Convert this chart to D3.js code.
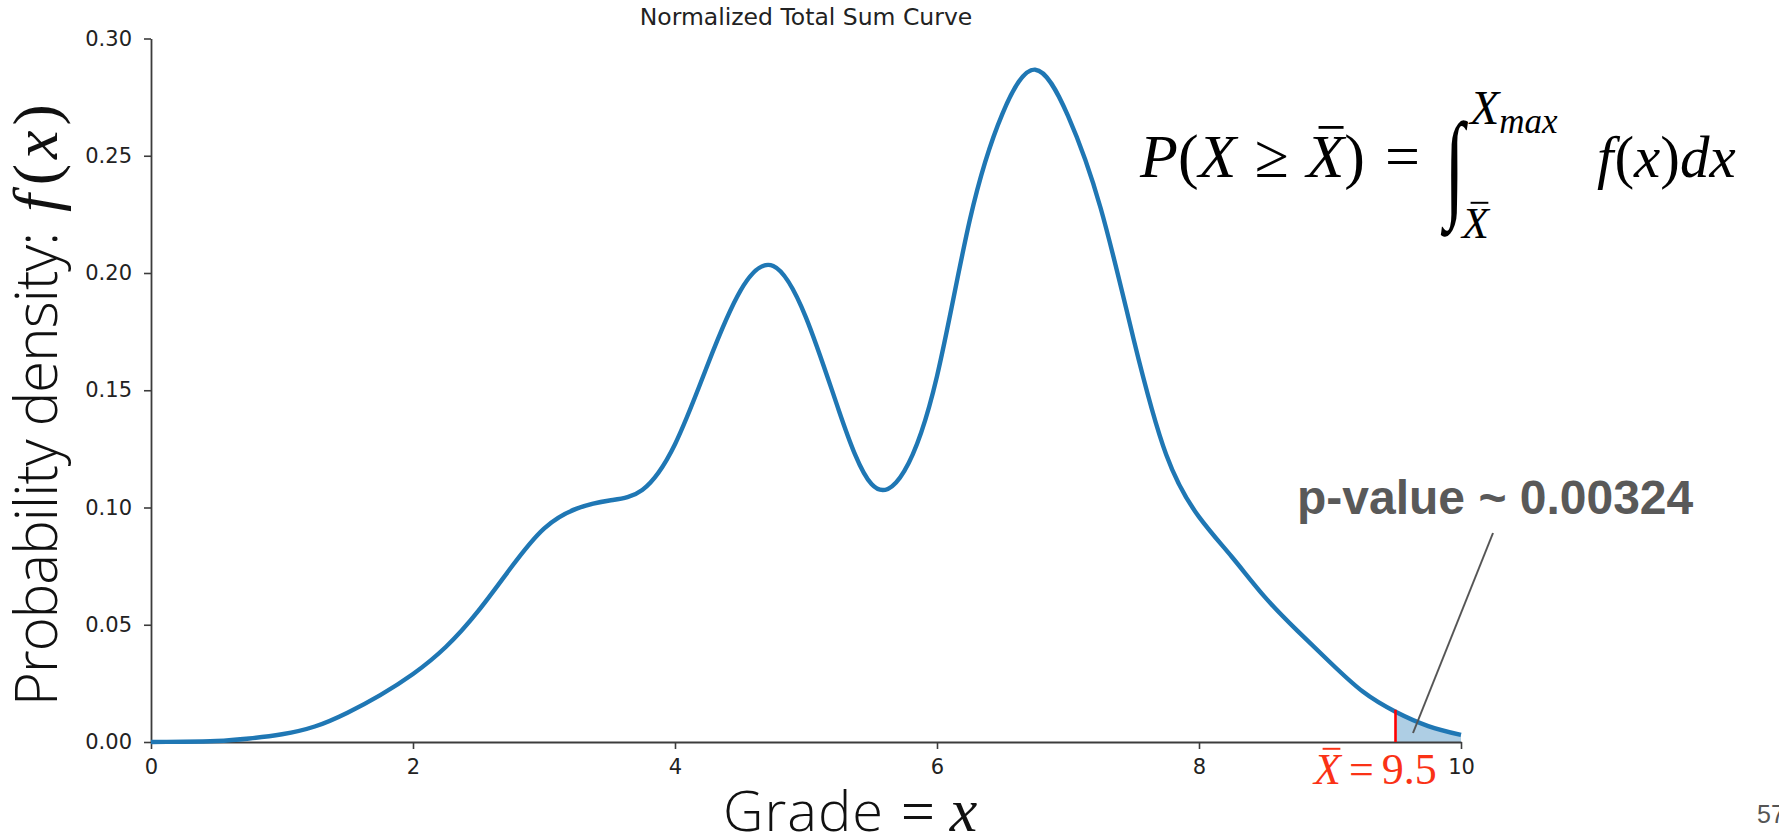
<!DOCTYPE html>
<html>
<head>
<meta charset="utf-8">
<script src="https://cdn.jsdelivr.net/npm/d3@7"></script>
<style>
  html, body { margin: 0; padding: 0; background: #fff; }
  svg { display: block; }
</style>
</head>
<body>
<svg id="chart" width="1779" height="837"></svg>
<script>
// Grade values (x) and the normalized density
const gradeX = [0, 0.25, 0.5, 0.75, 1.0, 1.25, 1.5, 1.75, 2.0, 2.25,
                2.5, 2.75, 3.0, 3.25, 3.5, 3.75, 4.0, 4.25, 4.5, 4.75,
                5.0, 5.25, 5.5, 5.75, 6.0, 6.25, 6.5, 6.75, 7.0, 7.25,
                7.5, 7.75, 8.0, 8.25, 8.5, 8.75, 9.0, 9.25, 9.5, 9.75, 10];
const density = [0.0000, 0.0001, 0.0004, 0.0015, 0.0033, 0.0066, 0.0125, 0.0200, 0.0290, 0.0405,
                 0.0560, 0.0745, 0.0910, 0.0995, 0.1030, 0.1075, 0.1270, 0.1610, 0.1925, 0.2030,
                 0.1810, 0.1415, 0.1100, 0.1155, 0.1560, 0.2225, 0.2680, 0.2867, 0.2670, 0.2275,
                 0.1720, 0.1225, 0.0960, 0.0790, 0.0620, 0.0475, 0.0340, 0.0215, 0.0129, 0.0068, 0.0030];

const xTicks = [0, 2, 4, 6, 8, 10];
const yTicks = [0, 0.05, 0.10, 0.15, 0.20, 0.25, 0.30];
const xDomain = [0, 10];
const yDomain = [0, 0.30];

const sampleMean = 9.5;          // observed X-bar
const pValueText = "p-value ~ 0.00324";
const chartTitle = "Normalized Total Sum Curve";
const pageNumber = "57";

const SANS = "'DejaVu Sans', sans-serif";
const LABEL_SANS = "'Open Sans', Roboto, 'Liberation Sans', sans-serif";
const SERIF = "'Liberation Serif', 'Times New Roman', serif";

const svg = d3.select("#chart");
const points = gradeX.map((g, i) => ({ x: g, y: density[i] }));

const x = d3.scaleLinear().domain(xDomain).range([151, 1461]);
const y = d3.scaleLinear().domain(yDomain).range([742, 38.5]);
const smooth = d3.curveNatural;

// ---- title ----
svg.append("text")
  .attr("x", (x.range()[0] + x.range()[1]) / 2)
  .attr("y", 25)
  .attr("text-anchor", "middle")
  .attr("font-family", SANS)
  .attr("font-size", 23.5)
  .attr("fill", "#222")
  .text(chartTitle);

// ---- shaded tail beyond the sample mean ----
const tail = points.filter(d => d.x >= sampleMean);
svg.append("path")
  .datum(tail)
  .attr("d", d3.area().x(d => x(d.x)).y0(y(0)).y1(d => y(d.y)).curve(smooth))
  .attr("fill", "#1f77b4")
  .attr("fill-opacity", 0.36);

// ---- axes ----
const axisColor = "#3c3c3c";
const yAxis = svg.append("g")
  .attr("transform", `translate(${x(0)},0)`)
  .call(d3.axisLeft(y).tickValues(yTicks).tickFormat(d3.format(".2f"))
        .tickSize(7).tickSizeOuter(0).tickPadding(12));
const xAxis = svg.append("g")
  .attr("transform", `translate(0,${y(0)})`)
  .call(d3.axisBottom(x).tickValues(xTicks).tickFormat(d3.format("d"))
        .tickSize(7).tickSizeOuter(0).tickPadding(10));
[yAxis, xAxis].forEach(a => {
  a.select(".domain").attr("stroke", axisColor).attr("stroke-width", 1.8);
  a.selectAll(".tick line").attr("stroke", axisColor).attr("stroke-width", 1.6);
  a.selectAll(".tick text").attr("font-family", SANS).attr("font-size", 21).attr("fill", "#222");
});

// ---- density curve ----
svg.append("path")
  .datum(points)
  .attr("d", d3.line().x(d => x(d.x)).y(d => y(d.y)).curve(smooth))
  .attr("fill", "none")
  .attr("stroke", "#1f77b4")
  .attr("stroke-width", 4.4)
  .attr("stroke-linejoin", "round");

// ---- marker at the sample mean ----
const meanPoint = points.find(d => d.x === sampleMean);
svg.append("line")
  .attr("x1", x(sampleMean)).attr("x2", x(sampleMean))
  .attr("y1", y(0)).attr("y2", y(meanPoint.y) - 2)
  .attr("stroke", "#ff0000")
  .attr("stroke-width", 2.6);

// ---- helper: lay out a row of text pieces (for math-style labels) ----
function mathRow(g, x0, baseY, pieces, size, fill) {
  let cx = x0;
  pieces.forEach(p => {
    const fs = p.size || size;
    const t = g.append("text")
      .attr("x", cx)
      .attr("y", baseY + (p.dy || 0))
      .attr("font-family", p.sans ? LABEL_SANS : SERIF)
      .attr("font-style", p.it ? "italic" : "normal")
      .attr("font-weight", p.weight || "normal")
      .attr("font-size", fs)
      .attr("fill", fill)
      .text(p.t);
    if (p.len) t.attr("textLength", p.len).attr("lengthAdjust", "spacing");
    const w = p.len || t.node().getComputedTextLength();
    if (p.bar) {
      const by = baseY + (p.dy || 0) - fs * 0.8;
      g.append("line")
        .attr("x1", cx + w * 0.32).attr("x2", cx + w * 0.98)
        .attr("y1", by).attr("y2", by)
        .attr("stroke", fill)
        .attr("stroke-width", Math.max(1.2, fs * 0.045));
    }
    cx += w + (p.gap || 0);
  });
  return cx;
}

// ---- axis labels ----
const xl = svg.append("g");
mathRow(xl, 723, 831, [
  { t: "Grade", sans: true, weight: 300, len: 160, gap: 18 },
  { t: "=", size: 60, gap: 15 },
  { t: "x", it: true, size: 62 }
], 56, "#111");

const yl = svg.append("g").attr("transform", "translate(57,706) rotate(-90)");
mathRow(yl, 0, 0, [
  { t: "Probability density:", sans: true, weight: 300, len: 474, gap: 20 },
  { t: "f", it: true, size: 64, gap: 9 },
  { t: "(", size: 64, gap: 5 },
  { t: "x", it: true, size: 64, gap: 5 },
  { t: ")", size: 64 }
], 58, "#111");

// ---- p-value formula ----
const fm = svg.append("g");
mathRow(fm, 1140, 177, [
  { t: "P", it: true },
  { t: "(" },
  { t: "X", it: true, gap: 18 },
  { t: "\u2265", gap: 18 },
  { t: "X", it: true, bar: true },
  { t: ")", gap: 20 },
  { t: "=" }
], 62, "#000");

// integral sign stretched to span its limits
const integ = fm.append("text")
  .attr("font-family", SERIF)
  .attr("font-size", 62)
  .attr("fill", "#000")
  .text("\u222B");
const ib = integ.node().getBBox();
const iTarget = { x0: 1440, x1: 1469, y0: 100, y1: 238 };
const sx = (iTarget.x1 - iTarget.x0) / ib.width;
const sy = (iTarget.y1 - iTarget.y0) / ib.height;
integ.attr("transform",
  `translate(${iTarget.x0 - ib.x * sx},${iTarget.y0 - ib.y * sy}) scale(${sx},${sy})`);

// upper and lower limits
mathRow(fm, 1470, 124, [
  { t: "X", it: true, size: 48 },
  { t: "max", it: true, size: 35, dy: 9 }
], 48, "#000");
mathRow(fm, 1462, 238, [
  { t: "X", it: true, size: 44, bar: true }
], 44, "#000");

// integrand
mathRow(fm, 1597, 177, [
  { t: "f", it: true, gap: 1 },
  { t: "(" },
  { t: "x", it: true },
  { t: ")" },
  { t: "d", it: true },
  { t: "x", it: true }
], 59, "#000");

// ---- observed mean label ----
const ml = svg.append("g");
mathRow(ml, 1314, 784, [
  { t: "X", it: true, bar: true, gap: 8 },
  { t: "=", gap: 8 },
  { t: "9.5" }
], 44, "#fa3216");

// ---- p-value annotation ----
svg.append("text")
  .attr("x", 1297)
  .attr("y", 514)
  .attr("font-family", "'Liberation Sans', Arial, sans-serif")
  .attr("font-weight", "bold")
  .attr("font-size", 48)
  .attr("fill", "#595959")
  .text(pValueText);
svg.append("line")
  .attr("x1", 1493).attr("y1", 533)
  .attr("x2", 1413).attr("y2", 733)
  .attr("stroke", "#555")
  .attr("stroke-width", 2);

// ---- page number ----
svg.append("text")
  .attr("x", 1757)
  .attr("y", 823)
  .attr("font-family", "'Liberation Sans', Arial, sans-serif")
  .attr("font-size", 25)
  .attr("fill", "#555")
  .text(pageNumber);
</script>
</body>
</html>
